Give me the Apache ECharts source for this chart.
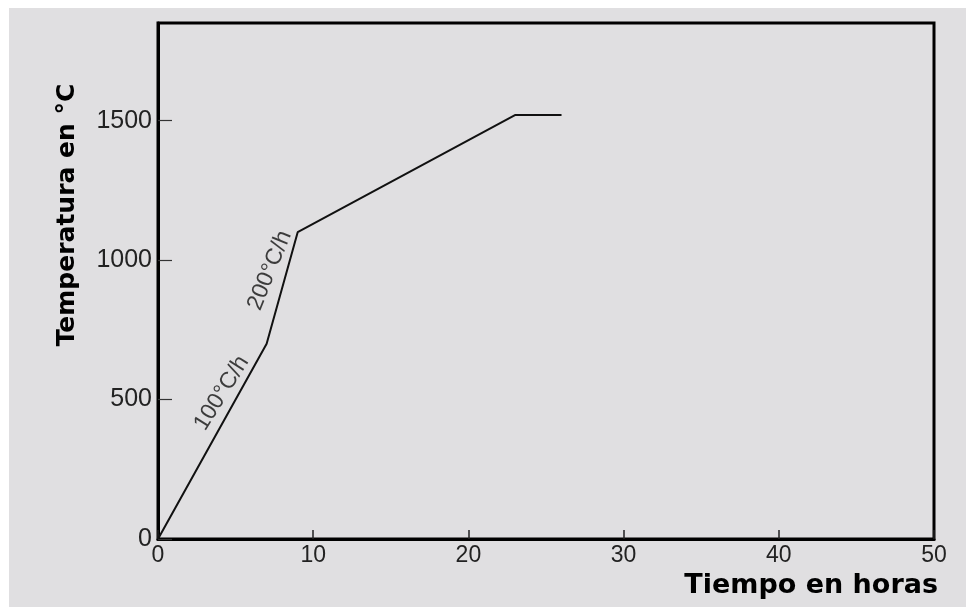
<!DOCTYPE html>
<html>
<head>
<meta charset="utf-8">
<script src="https://cdn.jsdelivr.net/npm/echarts@6/dist/echarts.min.js"></script>
<style>
html,body{margin:0;padding:0;background:#ffffff;width:966px;height:607px;overflow:hidden;}
#c{position:absolute;left:9px;top:8px;width:957px;height:599px;}
</style>
</head>
<body>
<div id="c"></div>
<script>
// Data (time in hours, temperature in °C)
const timeH = [0, 7, 9, 23, 26];
const tempC = [0, 700, 1100, 1520, 1520];

// Axis ticks
const xTicks = [0, 10, 20, 30, 40, 50];
const yTicks = [0, 500, 1000, 1500];

// Annotations (anchored in data coordinates)
const annotText = ['100°C/h', '200°C/h'];
const annotTime = [4.1, 7.2];
const annotTemp = [523, 963];
const annotAngle = [58, 68];

const chart = echarts.init(document.getElementById('c'), null, {renderer: 'canvas'});

const lineData = timeH.map((t, i) => [t, tempC[i]]);
const annotData = annotText.map((s, i) => ({
  value: [annotTime[i], annotTemp[i]],
  name: s,
  label: {rotate: annotAngle[i]}
}));

const option = {
  backgroundColor: '#e0dfe1',
  animation: false,
  grid: {
    left: 149, right: 32, top: 15, bottom: 68,
    show: true, borderColor: '#000', borderWidth: 3, backgroundColor: 'transparent'
  },
  xAxis: {
    type: 'value', min: 0, max: 50, interval: 10,
    name: 'Tiempo en horas',
    nameLocation: 'end', nameGap: 4,
    nameTextStyle: {
      fontFamily: 'DejaVu Sans', fontWeight: 'bold', fontSize: 27, color: '#000',
      align: 'right', verticalAlign: 'top', padding: [33, 0, 0, 0]
    },
    axisLine: {show: true, lineStyle: {color: '#000', width: 3}},
    axisTick: {show: true, inside: true, length: 9, lineStyle: {color: '#222', width: 1.5}},
    axisLabel: {
      margin: 5, fontFamily: 'Liberation Sans', fontSize: 23, color: '#222',
      formatter: v => (xTicks.indexOf(v) >= 0 ? String(v) : '')
    },
    splitLine: {show: false}
  },
  yAxis: {
    type: 'value', min: 0, max: 1850, interval: 500,
    name: 'Temperatura en °C',
    nameLocation: 'middle', nameGap: 78, nameRotate: 90,
    nameTextStyle: {
      fontFamily: 'DejaVu Sans', fontWeight: 'bold', fontSize: 25, color: '#000',
      padding: [0, 0, 0, 132]
    },
    axisLine: {show: true, lineStyle: {color: '#000', width: 3}},
    axisTick: {show: true, inside: true, length: 14, lineStyle: {color: '#333', width: 1.2}},
    axisLabel: {
      margin: 6, fontFamily: 'Liberation Sans', fontSize: 25, color: '#222',
      showMaxLabel: false,
      formatter: v => (yTicks.indexOf(v) >= 0 ? String(v) : '')
    },
    splitLine: {show: false}
  },
  series: [
    {
      type: 'line', data: lineData, symbol: 'none',
      lineStyle: {color: '#111', width: 2}, z: 5
    },
    {
      type: 'scatter', data: annotData, symbolSize: 0,
      label: {
        show: true, position: 'inside', formatter: p => p.name,
        fontFamily: 'Liberation Sans', fontSize: 23, color: '#111'
      },
      silent: true
    }
  ]
};
chart.setOption(option);
</script>
</body>
</html>
